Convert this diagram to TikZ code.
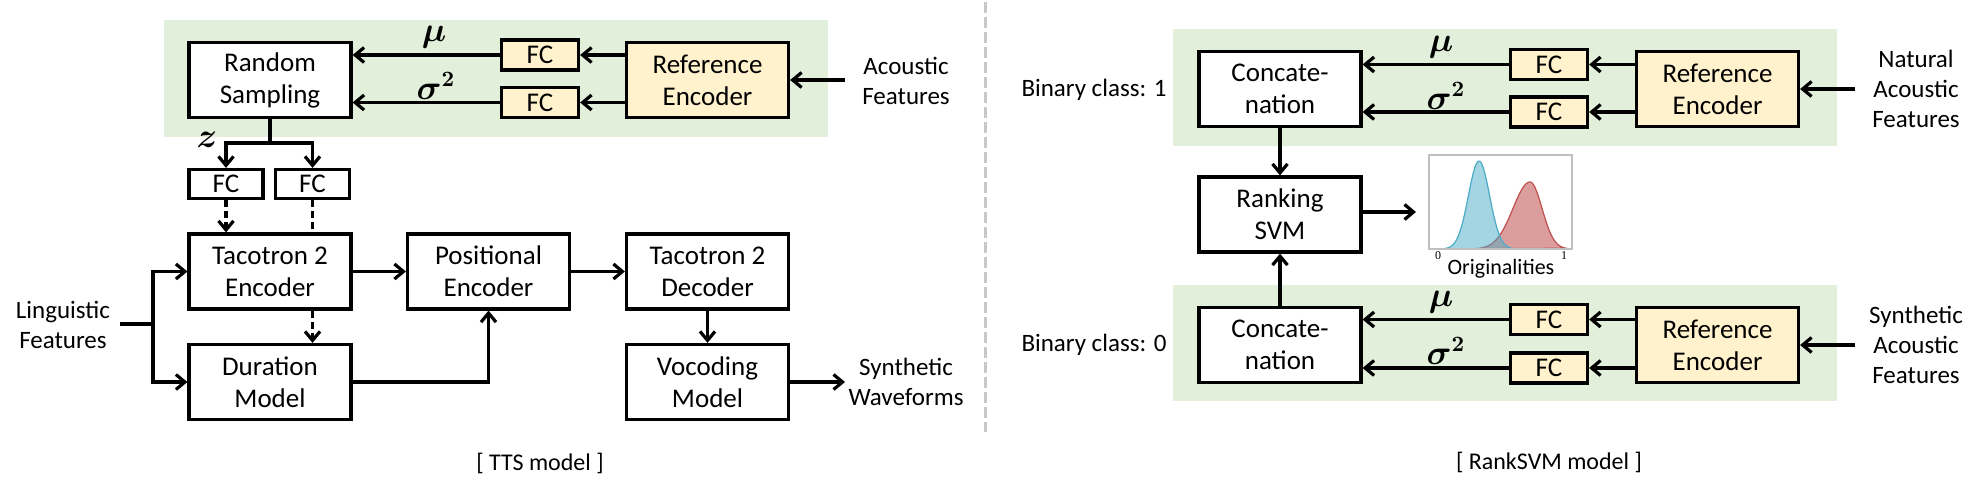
\documentclass[tikz,border=0pt]{standalone}
\usepackage{amsmath}
\usepackage{fontspec}
\setmainfont{Carlito}
\newfontfamily\serifnum{Liberation Serif}
\usetikzlibrary{arrows.meta}
\definecolor{bggreen}{HTML}{E2EFDA}
\definecolor{fcyellow}{HTML}{FFF2CC}
\definecolor{sepgrey}{HTML}{C8C8C8}
\definecolor{framegrey}{HTML}{BFBFBF}
\definecolor{bluedist}{HTML}{4BACC6}
\definecolor{reddist}{HTML}{C0504D}
\begin{document}
\begin{tikzpicture}[x=0.5pt,y=-0.5pt,
 box/.style={draw=black, line width=1.6pt, fill=white, inner sep=0pt, align=center,
   font=\fontsize{13.5}{16}\selectfont, minimum width=81pt, minimum height=37.5pt},
 fcbox/.style={box, fill=fcyellow, minimum width=38.5pt, minimum height=15pt},
 refbox/.style={box, fill=fcyellow},
 smallfc/.style={box, minimum width=37pt, minimum height=14.5pt},
 lbl/.style={align=center, font=\fontsize{12.5}{15}\selectfont, inner sep=0pt},
 arr/.style={line width=1.6pt, -{Straight Barb[length=4.5pt,width=7.5pt]}},
 conn/.style={line width=1.6pt},
 dasharr/.style={arr, dash pattern=on 3.5pt off 2pt},
 dashln/.style={conn, dash pattern=on 3.5pt off 2pt},
 greek/.style={font=\fontsize{16}{18}\selectfont, inner sep=0pt},
 captxt/.style={font=\fontsize{12}{14}\selectfont, inner sep=0pt},
 sepline/.style={draw=sepgrey, line width=1.5pt, dash pattern=on 5.5pt off 2pt}
]
\useasboundingbox (0,0) rectangle (1980,492);

% ================= TTS model =================
\fill[bggreen] (164,20) rectangle (828,137);
\node[box] (rs) at (270,80) {Random\\Sampling};
\node[fcbox] (fcm) at (540,55) {FC};
\node[fcbox] (fcs) at (540,102.5) {FC};
\node[refbox] (re) at (707.5,80) {Reference\\Encoder};
\node[lbl] (af) at (906,81) {Acoustic\\Features};
\coordinate (afin) at (845,80);
\draw[arr] (afin) -- (re.east |- afin);
\draw[arr] (re.west |- fcm) -- (fcm.east);
\draw[arr] (re.west |- fcs) -- (fcs.east);
\draw[arr] (fcm.west) -- (rs.east |- fcm.west);
\draw[arr] (fcs.west) -- (rs.east |- fcs.west);
\node[greek] (mu1) at (434,37) {$\boldsymbol{\mu}$};
\node[greek] (sg1) at (436,86) {$\boldsymbol{\sigma^2}$};

\coordinate (zb) at (270,143);
\node[smallfc] (fca) at (226,184) {FC};
\node[smallfc] (fcb) at (312.5,184) {FC};
\draw[conn] (rs.south) -- (zb);
\draw[arr] (zb) -| (fca.north);
\draw[arr] (zb) -| (fcb.north);
\node[greek] (zl) at (207,140) {$\boldsymbol{z}$};

\node[box] (te) at (270,271.5) {Tacotron 2\\Encoder};
\node[box] (pe) at (488.5,271.5) {Positional\\Encoder};
\node[box] (td) at (707.5,271.5) {Tacotron 2\\Decoder};
\node[box] (dm) at (270,382) {Duration\\Model};
\node[box] (vm) at (707.5,382) {Vocoding\\Model};
\draw[dasharr] (fca.south) -- (te.north -| fca.south);
\draw[dashln] (fcb.south) -- (te.north -| fcb.south);
\draw[arr] (te.east) -- (pe.west);
\draw[arr] (pe.east) -- (td.west);
\draw[arr] (td.south) -- (vm.north);
\draw[dasharr] (te.south -| fcb.south) -- (dm.north -| fcb.south);
\draw[arr] (dm.east) -| (pe.south);

\node[lbl] (lf) at (63,325) {Linguistic\\Features};
\coordinate (lfo) at (120,324);
\coordinate (lfb) at (153,324);
\draw[conn] (lfo) -- (lfb);
\draw[arr] (lfb) |- (te.west);
\draw[arr] (lfb) |- (dm.west);

\node[lbl] (sw) at (906,382) {Synthetic\\Waveforms};
\coordinate (swi) at (845,382);
\draw[arr] (vm.east) -- (swi);

\node[captxt] (tts) at (540,463) {[ TTS model ]};

% separator
\draw[sepline] (985,2) -- (985,432);

% ================= RankSVM model =================
\fill[bggreen] (1173,29) rectangle (1837,146);
\fill[bggreen] (1173,285) rectangle (1837,401);

\node[box] (c1) at (1280,89) {Concate-\\nation};
\node[fcbox] (fc3) at (1549,64.5) {FC};
\node[fcbox] (fc4) at (1549,112) {FC};
\node[refbox] (re1) at (1717.5,89) {Reference\\Encoder};
\node[lbl] (naf) at (1916,89) {Natural\\Acoustic\\Features};
\coordinate (nafi) at (1855,89);
\draw[arr] (nafi) -- (re1.east |- nafi);
\draw[arr] (re1.west |- fc3) -- (fc3.east);
\draw[arr] (re1.west |- fc4) -- (fc4.east);
\draw[arr] (fc3.west) -- (c1.east |- fc3.west);
\draw[arr] (fc4.west) -- (c1.east |- fc4.west);
\node[greek] (mu2) at (1441,47) {$\boldsymbol{\mu}$};
\node[greek] (sg2) at (1446,96) {$\boldsymbol{\sigma^2}$};
\node[lbl] (bc1) at (1094,90) {Binary class: 1};

\node[box] (svm) at (1280,214.5) {Ranking\\SVM};
\draw[arr] (c1.south) -- (svm.north);
\coordinate (svmo) at (1416,212);
\draw[arr] (svm.east |- svmo) -- (svmo);

% distribution plot
\fill[white] (1429,155) rectangle (1572,249);
\draw[reddist, line width=0.6pt, fill=reddist, fill opacity=0.55]
  plot[domain=-55:0, samples=50] ({1530+\x},{249-67*exp(-(\x*\x)/(2*17*17))})
  -- plot[domain=0:36, samples=40] ({1530+\x},{249-67*exp(-(\x*\x)/(2*12*12))}) -- cycle;
\draw[bluedist, line width=0.6pt, fill=bluedist, fill opacity=0.5]
  plot[domain=-45:45, samples=80] ({1479+\x},{249-88*exp(-(\x*\x)/(2*10.6*10.6))}) -- cycle;
\draw[framegrey, line width=0.6pt] (1429,155) rectangle (1572,249);
\node[inner sep=0pt, font=\serifnum\fontsize{6}{7}\selectfont] (p0) at (1438,256) {0};
\node[inner sep=0pt, font=\serifnum\fontsize{6}{7}\selectfont] (p1) at (1564,256) {1};
\node[inner sep=0pt, font=\fontsize{11}{13}\selectfont] (orig) at (1501,269) {Originalities};

\node[box] (c0) at (1280,345) {Concate-\\nation};
\node[fcbox] (fc5) at (1549,319.5) {FC};
\node[fcbox] (fc6) at (1549,368) {FC};
\node[refbox] (re0) at (1717.5,345) {Reference\\Encoder};
\node[lbl] (saf) at (1916,345) {Synthetic\\Acoustic\\Features};
\coordinate (safi) at (1855,345);
\draw[arr] (safi) -- (re0.east |- safi);
\draw[arr] (re0.west |- fc5) -- (fc5.east);
\draw[arr] (re0.west |- fc6) -- (fc6.east);
\draw[arr] (fc5.west) -- (c0.east |- fc5.west);
\draw[arr] (fc6.west) -- (c0.east |- fc6.west);
\node[greek] (mu3) at (1441,302) {$\boldsymbol{\mu}$};
\node[greek] (sg3) at (1446,351) {$\boldsymbol{\sigma^2}$};
\node[lbl] (bc0) at (1094,345) {Binary class: 0};
\draw[arr] (c0.north) -- (svm.south);

\node[captxt] (rsvm) at (1549,462) {[ RankSVM model ]};
\end{tikzpicture}
\end{document}
